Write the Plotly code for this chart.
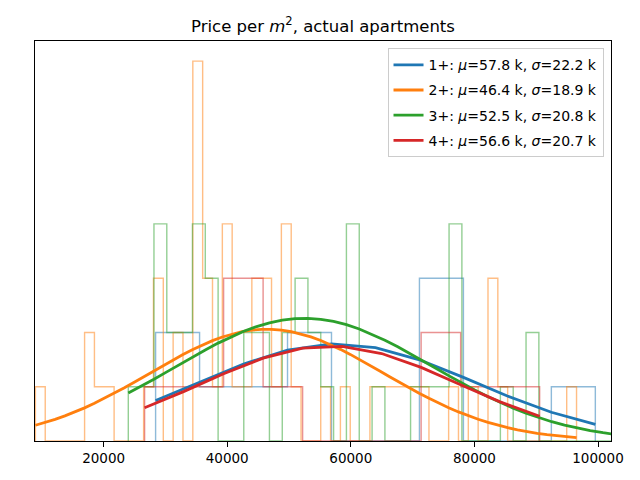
import numpy as np
import plotly.graph_objects as go

# ---- data ----
labels = ["1+", "2+", "3+", "4+"]
colors = ["#1f77b4", "#ff7f0e", "#2ca02c", "#d62728"]
mus = [57800, 46400, 52500, 56600]
sigmas = [22200, 18900, 20800, 20700]

# histogram bins (first edge, bin width) and counts per series
blue_start, blue_width = 28414, 7115
blue_counts = [2, 1, 1, 2, 0, 0, 3, 0, 0, 1]

orange_start, orange_width = 8964, 1592
orange_counts = [1, 0, 0, 0, 0, 2, 1, 1, 0, 0,
                 0, 1, 3, 0, 2, 0, 7, 3, 1, 4,
                 1, 1, 3, 3, 1, 4, 1, 0, 0, 1,
                 0, 1, 0, 0, 1, 1, 1, 1, 1, 1,
                 0, 0, 1, 0, 1, 0, 3, 1, 0, 0,
                 0, 0, 0, 0, 1]

green_start, green_width = 23997, 2076
green_counts = [1, 1, 4, 2, 2, 4, 3, 0, 0, 2,
                2, 0, 2, 3, 2, 1, 0, 4, 0, 1,
                0, 0, 1, 1, 1, 4, 0, 0, 0, 1,
                0, 2, 0, 0, 0, 0, 0, 0]

red_start, red_width = 26634, 6392
red_counts = [1, 1, 3, 1, 0, 0, 0, 2, 1, 1]

# heights of the fitted normal curves at their peak (in count units)
pdf_peaks = [1.79, 2.06, 2.26, 1.75]

x_range = [8900, 102100]
y_range = [0, 7.37]
x_ticks = [20000, 40000, 60000, 80000, 100000]

series = [
    (blue_start, blue_width, blue_counts),
    (orange_start, orange_width, orange_counts),
    (green_start, green_width, green_counts),
    (red_start, red_width, red_counts),
]

fig = go.Figure()

# step histograms
for (start, width, counts), col in zip(series, colors):
    n = len(counts)
    edges = start + width * np.arange(n + 1)
    xs = [edges[0], edges[0]] + list(edges[1:])
    ys = [0, counts[0]] + list(counts[1:]) + [0]
    fig.add_trace(go.Scatter(
        x=xs, y=ys, mode="lines", line=dict(color=col, width=1.4, shape="hv"),
        opacity=0.5, showlegend=False, hoverinfo="skip"))

# normal curves evaluated at bin edges
for i, ((start, width, counts), col) in enumerate(zip(series, colors)):
    edges = start + width * np.arange(len(counts) + 1)
    z = (edges - mus[i]) / sigmas[i]
    yv = pdf_peaks[i] * np.exp(-0.5 * z ** 2)
    name = (f"{labels[i]}: <i>μ</i>={mus[i]/1000:.1f} k, "
            f"<i>σ</i>={sigmas[i]/1000:.1f} k")
    fig.add_trace(go.Scatter(
        x=edges, y=yv, mode="lines", line=dict(color=col, width=2.8),
        name=name, legendgroup=labels[i]))

# the page adds an 8 px body margin; size the figure to compensate
fig.update_layout(
    width=632, height=472,
    margin=dict(l=27, r=29, t=33, b=39),
    plot_bgcolor="white", paper_bgcolor="white",
    font=dict(family="DejaVu Sans", size=14, color="black"),
    title=dict(text="Price per <i>m</i><sup>2</sup>, actual apartments",
               x=0.5, xref="paper", xanchor="center", y=0.962, yanchor="middle",
               font=dict(size=16.5, family="DejaVu Sans")),
    legend=dict(x=0.987, xanchor="right", y=0.982, yanchor="top",
                bgcolor="rgba(255,255,255,0.8)", bordercolor="#cccccc",
                borderwidth=1, font=dict(size=14, family="DejaVu Sans"),
                tracegroupgap=4),
    showlegend=True,
)
fig.update_xaxes(range=x_range, tickvals=x_ticks, tickformat="d",
                 showline=True, linecolor="black", linewidth=1, mirror=True,
                 ticks="outside", ticklen=5, tickcolor="black",
                 showgrid=False, zeroline=False,
                 tickfont=dict(size=13.5, family="DejaVu Sans"))
fig.update_yaxes(range=y_range, showticklabels=False, ticks="",
                 showline=True, linecolor="black", linewidth=1, mirror=True,
                 showgrid=False, zeroline=False)

fig.write_html("out.html")
